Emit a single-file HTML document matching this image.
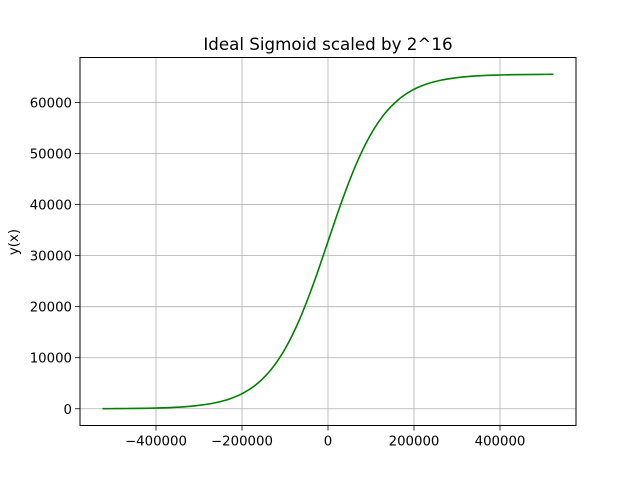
<!DOCTYPE html>
<html><head><meta charset="utf-8"><style>
body{margin:0;background:#fff;}
svg{display:block;font-family:"DejaVu Sans","Liberation Sans",sans-serif;}
</style></head><body>
<svg id="chart" width="640" height="478" xmlns="http://www.w3.org/2000/svg">
<rect width="640" height="478" fill="#fff"/>
<text x="328" y="50" font-size="16.7" text-anchor="middle">Ideal Sigmoid scaled by 2^16</text>
<text transform="translate(18,242) rotate(-90)" font-size="13.3" text-anchor="middle">y(x)</text>
<g id="grid"></g><g id="ticks"></g>
<path id="curve" fill="none" stroke="#008000" stroke-width="1.6"/>
<rect x="80" y="57.5" width="496" height="368" fill="none" stroke="#000" stroke-width="1"/>
</svg>
<script>
const xTicks=[-400000,-200000,0,200000,400000];
const xTickLabels=["\u2212400000","\u2212200000","0","200000","400000"];
const yTicks=[0,10000,20000,30000,40000,50000,60000];
const yTickLabels=["0","10000","20000","30000","40000","50000","60000"];
const xValues=[-524288,-491520,-458752,-425984,-393216,-360448,-327680,-294912,-262144,-229376,-196608,-163840,-131072,-98304,-65536,-32768,0,32768,65536,98304,131072,163840,196608,229376,262144,294912,327680,360448,393216,425984,458752,491520,524288];
const yValues=[22,36,60,98,162,266,438,720,1180,1921,3108,4971,7812,11955,17625,24743,32768,40793,47911,53581,57724,60565,62428,63615,64356,64816,65098,65270,65374,65438,65476,65500,65514];
const L=80,R=576,T=57.5,B=425.5;
const xMin=-576717,xMax=576717,yMin=-3277,yMax=68813;
const sx=v=>L+(v-xMin)/(xMax-xMin)*(R-L);
const sy=v=>B-(v-yMin)/(yMax-yMin)*(B-T);
const NS="http://www.w3.org/2000/svg";
const g=document.getElementById('grid'),tk=document.getElementById('ticks');
function mk(tag,a,parent){const e=document.createElementNS(NS,tag);for(const k in a)e.setAttribute(k,a[k]);parent.appendChild(e);return e;}
xTicks.forEach((v,i)=>{const x=sx(v);
const gl=mk('line',{x1:x,x2:x,y1:T,y2:B,stroke:'#b0b0b0','stroke-width':0.8},g);


const t=mk('line',{x1:x,x2:x,y1:B,y2:B+5,stroke:'#000','stroke-width':0.8},tk);


const lb=mk('text',{x:x,y:B+20,'font-size':13.3,'text-anchor':'middle'},tk);lb.textContent=xTickLabels[i];


});
yTicks.forEach((v,i)=>{const y=sy(v);
const gl=mk('line',{x1:L,x2:R,y1:y,y2:y,stroke:'#b0b0b0','stroke-width':0.8},g);


const t=mk('line',{x1:L-5,x2:L,y1:y,y2:y,stroke:'#000','stroke-width':0.8},tk);


const lb=mk('text',{x:L-8,y:y+5,'font-size':13.3,'text-anchor':'end'},tk);lb.textContent=yTickLabels[i];


});
const P=xValues.map((x,i)=>[sx(x),sy(yValues[i])]);
let d='M'+P[0][0].toFixed(2)+','+P[0][1].toFixed(2);
for(let i=0;i<P.length-1;i++){
const p0=P[Math.max(i-1,0)],p1=P[i],p2=P[i+1],p3=P[Math.min(i+2,P.length-1)];
const c1x=p1[0]+(p2[0]-p0[0])/6,c1y=p1[1]+(p2[1]-p0[1])/6;
const c2x=p2[0]-(p3[0]-p1[0])/6,c2y=p2[1]-(p3[1]-p1[1])/6;
d+=' C'+c1x.toFixed(2)+','+c1y.toFixed(2)+' '+c2x.toFixed(2)+','+c2y.toFixed(2)+' '+p2[0].toFixed(2)+','+p2[1].toFixed(2);
}
document.getElementById('curve').setAttribute('d',d);
</script>
</body></html>
